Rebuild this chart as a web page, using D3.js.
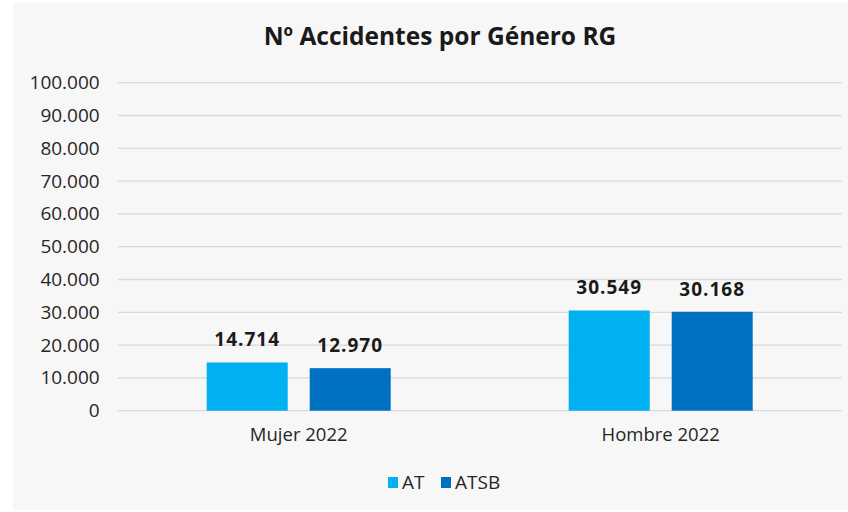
<!DOCTYPE html>
<html>
<head>
<meta charset="utf-8">
<script src="https://cdn.jsdelivr.net/npm/d3@7"></script>
<style>
  html, body { margin: 0; padding: 0; background: #ffffff; }
  svg { display: block; font-family: 'Open Sans', sans-serif; }
</style>
</head>
<body>
<svg id="chart" width="848" height="512"></svg>
<script>
// data
const categories = ['Mujer 2022', 'Hombre 2022']
const seriesNames = ['AT', 'ATSB']
const AT = [14714, 30549]
const ATSB = [12970, 30168]
const yTicks = [0, 10000, 20000, 30000, 40000, 50000, 60000, 70000, 80000, 90000, 100000]
const colors = ['#00b0f0', '#0070c0']

const svg = d3.select('#chart')
const margin = { top: 82.7, left: 117.7, right: 848 - 841.7, bottom: 512 - 410.7 }
const width = 848 - margin.left - margin.right
const height = 512 - margin.top - margin.bottom

// panel background
svg.append('rect')
  .attr('x', 13).attr('y', 3)
  .attr('width', 835).attr('height', 507)
  .attr('fill', '#f7f7f7')

svg.append('text')
  .attr('x', 440).attr('y', 45)
  .attr('text-anchor', 'middle')
  .style('font-size', '24.5px')
  .style('font-weight', 'bold')
  .style('fill', '#1a1a1a')
  .text('Nº Accidentes por Género RG')

const g = svg.append('g').attr('transform', `translate(${margin.left},${margin.top})`)

const y = d3.scaleLinear().domain([0, 100000]).range([height, 0])
const x0 = d3.scaleBand().domain(categories).range([0, width]).padding(0)
const groupW = 184
const x1 = d3.scaleBand().domain(seriesNames)
  .range([x0.bandwidth() / 2 - groupW / 2, x0.bandwidth() / 2 + groupW / 2])
  .paddingInner(0.2136)

const fmt = d => d3.format(',')(d).replace(/,/g, '.')

// grid
g.append('g')
  .selectAll('line')
  .data(yTicks)
  .join('line')
  .attr('x1', 0).attr('x2', width)
  .attr('y1', d => y(d)).attr('y2', d => y(d))
  .attr('stroke', '#d9d9d9')
  .attr('stroke-width', 1.3)

// y axis labels
const yAxis = g.append('g')
  .call(d3.axisLeft(y).tickValues(yTicks).tickSize(0).tickPadding(18).tickFormat(fmt))
yAxis.select('.domain').remove()
yAxis.selectAll('text')
  .style('font-size', '19px')
  .style('font-family', "'Open Sans', sans-serif")
  .style('fill', '#262626')

const rows = categories.map((c, i) => ({ cat: c, values: [AT[i], ATSB[i]] }))

const groups = g.selectAll('.grp')
  .data(rows)
  .join('g')
  .attr('class', 'grp')
  .attr('transform', d => `translate(${x0(d.cat)},0)`)

groups.selectAll('rect')
  .data(d => d.values.map((v, j) => ({ key: seriesNames[j], value: v })))
  .join('rect')
  .attr('x', d => x1(d.key))
  .attr('width', x1.bandwidth())
  .attr('y', d => y(d.value))
  .attr('height', d => height - y(d.value))
  .attr('fill', (d, j) => colors[j])

groups.selectAll('.val')
  .data(d => d.values.map((v, j) => ({ key: seriesNames[j], value: v })))
  .join('text')
  .attr('class', 'val')
  .attr('x', d => x1(d.key) + x1.bandwidth() / 2)
  .attr('y', d => y(d.value) - 16)
  .attr('text-anchor', 'middle')
  .style('font-size', '19px')
  .style('font-weight', 'bold')
  .style('letter-spacing', '1px')
  .style('fill', '#1a1a1a')
  .text(d => fmt(d.value))

// x axis labels
const xAxis = g.append('g')
  .attr('transform', `translate(0,${height})`)
  .call(d3.axisBottom(x0).tickSize(0).tickPadding(17))
xAxis.select('.domain').remove()
xAxis.selectAll('text')
  .style('font-size', '18.5px')
  .style('font-family', "'Open Sans', sans-serif")
  .style('fill', '#262626')

// legend
const legend = svg.append('g').attr('transform', 'translate(388,477)')
const legendX = [0, 53]
seriesNames.forEach((s, i) => {
  const item = legend.append('g').attr('transform', `translate(${legendX[i]},0)`)
  item.append('rect').attr('width', 10).attr('height', 11).attr('fill', colors[i])
  item.append('text')
    .attr('x', 14).attr('y', 11.5)
    .style('font-size', '19px')
    .style('fill', '#262626')
    .text(s)
})
</script>
</body>
</html>
